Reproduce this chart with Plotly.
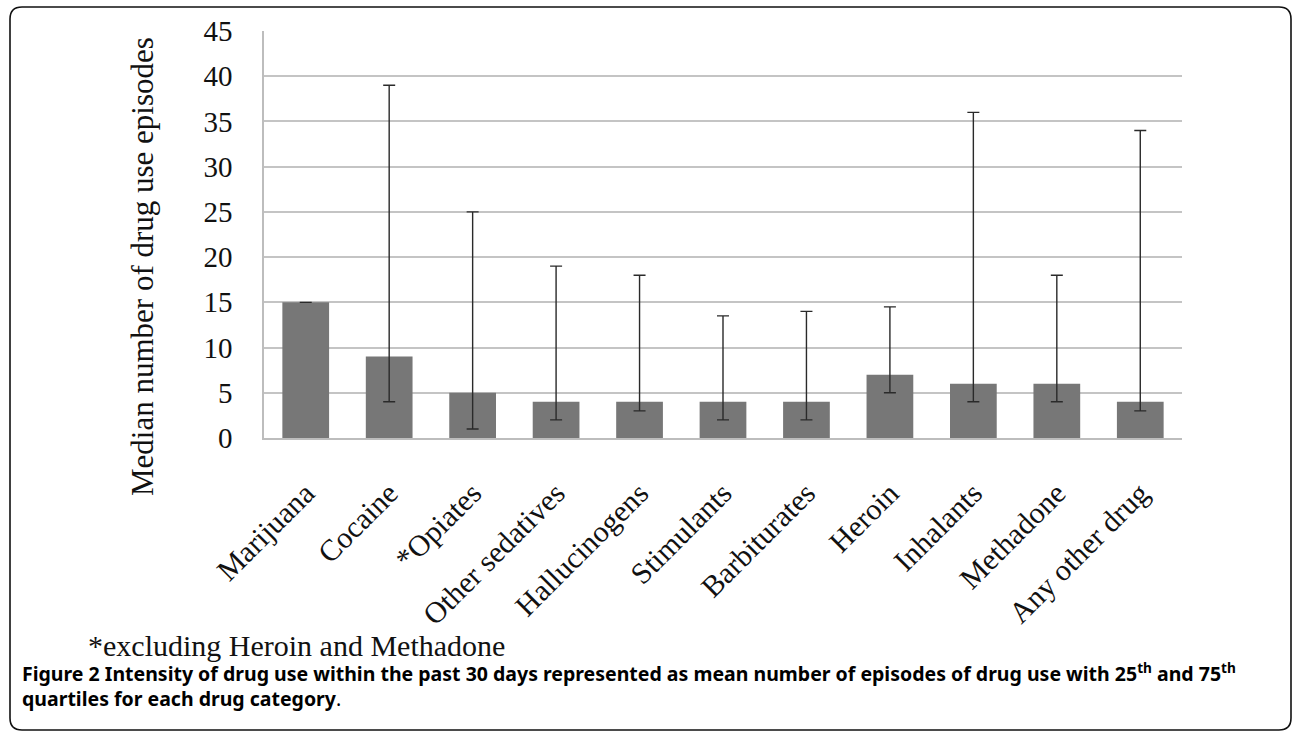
import plotly.graph_objects as go

categories = ["Marijuana", "Cocaine", "*Opiates", "Other sedatives", "Hallucinogens",
              "Stimulants", "Barbiturates", "Heroin", "Inhalants", "Methadone", "Any other drug"]
medians = [15, 9, 5, 4, 4, 4, 4, 7, 6, 6, 4]
q25 = [15, 4, 1, 2, 3, 2, 2, 5, 4, 4, 3]
q75 = [15, 39, 25, 19, 18, 13.5, 14, 14.5, 36, 18, 34]
y_ticks = [0, 5, 10, 15, 20, 25, 30, 35, 40, 45]

W, H = 1292, 733
L, R, T, B = 264, 110, 31, 295
PW, PH = W - L - R, H - T - B

def px(x):
    return (x - L) / PW

def py(y):
    return 1 - (y - T) / PH

serif = "Liberation Serif"
sans = "Noto Sans"

fig = go.Figure()
fig.add_trace(go.Bar(
    x=categories, y=medians,
    marker=dict(color="#777777", line=dict(width=0)),
    width=0.56,
    error_y=dict(type="data", symmetric=False,
                 array=[u - m for u, m in zip(q75, medians)],
                 arrayminus=[m - l for m, l in zip(medians, q25)],
                 color="#2a2a2a", thickness=1.4, width=6),
    showlegend=False,
))

# frame with rounded corners
x0, x1, y0, y1, r = 10, 1291, 7, 730, 12
rx, ry = r / PW, r / PH
path = (f"M {px(x0)+rx},{py(y0)} L {px(x1)-rx},{py(y0)} Q {px(x1)},{py(y0)} {px(x1)},{py(y0)-ry} "
        f"L {px(x1)},{py(y1)+ry} Q {px(x1)},{py(y1)} {px(x1)-rx},{py(y1)} "
        f"L {px(x0)+rx},{py(y1)} Q {px(x0)},{py(y1)} {px(x0)},{py(y1)+ry} "
        f"L {px(x0)},{py(y0)-ry} Q {px(x0)},{py(y0)} {px(x0)+rx},{py(y0)} Z")
fig.add_shape(type="path", path=path, xref="paper", yref="paper",
              line=dict(color="#111111", width=1.6), layer="above")

fig.add_annotation(text="Median number of drug use episodes", textangle=-90,
                   x=px(142), y=py(267), xref="paper", yref="paper",
                   showarrow=False, font=dict(family=serif, size=31, color="#111"),
                   xanchor="center", yanchor="middle")
fig.add_annotation(text="*excluding Heroin and Methadone",
                   x=px(86), y=py(645), xref="paper", yref="paper",
                   showarrow=False, font=dict(family=serif, size=30, color="#111"),
                   xanchor="left", yanchor="middle")
fig.add_annotation(text="<b>Figure 2 Intensity of drug use within the past 30 days represented as mean number of episodes of drug use with 25<sup>th</sup> and 75<sup>th</sup></b>",
                   x=px(20), y=py(672), xref="paper", yref="paper",
                   showarrow=False, font=dict(family=sans, size=19.5, color="#000"),
                   xanchor="left", yanchor="middle")
fig.add_annotation(text="<b>quartiles for each drug category</b>.",
                   x=px(20), y=py(698), xref="paper", yref="paper",
                   showarrow=False, font=dict(family=sans, size=19.5, color="#000"),
                   xanchor="left", yanchor="middle")

fig.update_layout(
    width=W, height=H,
    margin=dict(l=L, r=R, t=T, b=B, autoexpand=False),
    paper_bgcolor="white", plot_bgcolor="white",
    bargap=0.44,
    font=dict(family=serif, size=29, color="#111"),
)
fig.update_xaxes(
    showgrid=False, showline=True, linecolor="#bdbdbd", linewidth=1.5,
    tickangle=-45, tickfont=dict(family=serif, size=30, color="#111"),
    ticks="", ticklabelstandoff=24,
)
fig.update_yaxes(
    range=[0, 45], tickvals=y_ticks, ticktext=[str(v) for v in y_ticks],
    showgrid=True, gridcolor="#c4c4c4", gridwidth=1.5,
    showline=True, linecolor="#bdbdbd", linewidth=1.5,
    zeroline=False, ticks="", ticklabelstandoff=24,
    tickfont=dict(family=serif, size=29, color="#111"),
)

fig.write_html("out.html", config={"displayModeBar": False},
               post_script="document.body.style.margin='0';")
